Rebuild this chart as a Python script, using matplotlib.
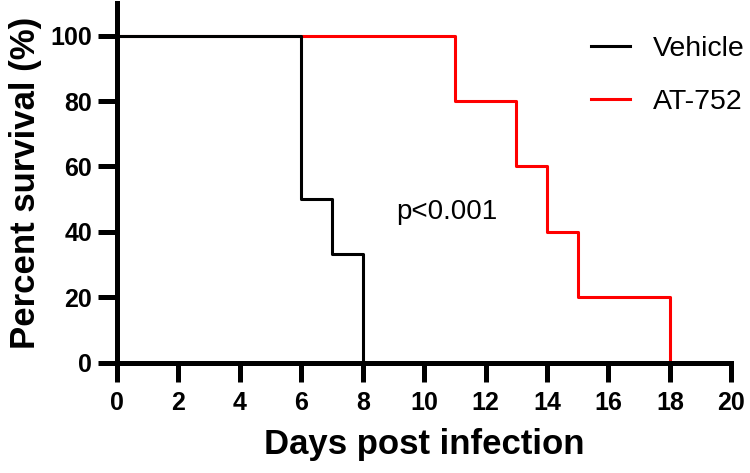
import matplotlib.pyplot as plt
import numpy as np

plt.rc('font', family='Liberation Sans')

vehicle_days = [0, 6, 7, 8, 20]
vehicle_surv = [100, 50, 33.33, 0, 0]
at752_days = [0, 11, 13, 14, 15, 18, 20]
at752_surv = [100, 80, 60, 40, 20, 0, 0]

fig = plt.figure(figsize=(7.5, 4.73), dpi=100)
ax = fig.add_axes([0.156, 0.233, 0.819, 0.761])

ax.step(at752_days, at752_surv, where='post', color='#FF0000', linewidth=2.2, label='AT-752')
ax.step(vehicle_days, vehicle_surv, where='post', color='black', linewidth=2.2, label='Vehicle')

ax.set_xlim(0, 20)
ax.set_ylim(0, 110)
ax.set_xticks(np.arange(0, 21, 2))
ax.set_yticks(np.arange(0, 101, 20))
for s in ['top', 'right']:
    ax.spines[s].set_visible(False)
for s in ['left', 'bottom']:
    ax.spines[s].set_linewidth(3.6)
ax.tick_params(axis='both', direction='out', length=14, width=3.6, labelsize=18)
ax.tick_params(axis='x', pad=6)
ax.tick_params(axis='y', pad=4)
for lbl in ax.get_xticklabels() + ax.get_yticklabels():
    lbl.set_fontweight('bold')

ax.set_xlabel('Days post infection', fontsize=25, fontweight='bold', labelpad=10)
ax.set_ylabel('Percent survival (%)', fontsize=25, fontweight='bold', labelpad=6)

ax.text(10.75, 46, 'p<0.001', fontsize=20, ha='center', va='center')

h, l = ax.get_legend_handles_labels()
ax.legend(h[::-1], l[::-1], loc='upper right', bbox_to_anchor=(1.064, 0.978), frameon=False,
          fontsize=20.5, handlelength=1.4, handletextpad=0.8, labelspacing=0.95)

fig.savefig('out.png', dpi=100)
